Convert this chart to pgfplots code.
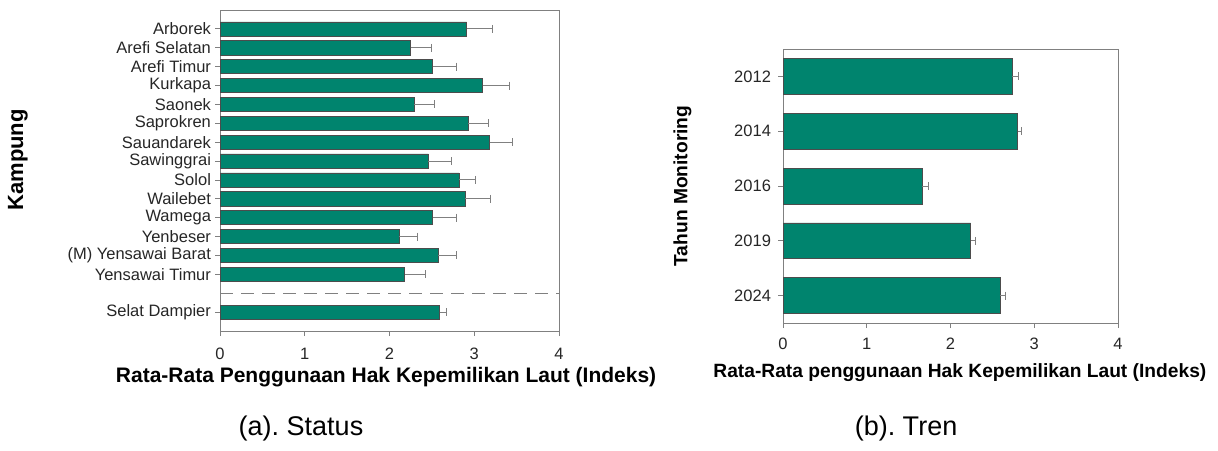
\documentclass[border=0pt]{standalone}
\usepackage{fontspec}
\setmainfont{Liberation Sans}
\usepackage{pgfplots}
\pgfplotsset{compat=1.18}
\definecolor{barteal}{RGB}{0,132,110}
\definecolor{axgray}{RGB}{128,128,128}
\begin{document}
\begin{tikzpicture}
\useasboundingbox (0,0) rectangle (609pt,225pt);
\pgfplotsset{
  myax/.style={
    scale only axis,
    anchor=south west,
    xmin=0, xmax=4,
    xtick={0,1,2,3,4},
    tick pos=left,
    tick align=outside,
    major tick length=2.5pt,
    axis line style={axgray},
    every tick/.style={axgray},
    /pgf/number format/assume math mode=true,
    ticklabel style={font=\fontsize{8.25}{10}\selectfont, text=black!85},
  }
}
% ---------- (a) Status ----------
\begin{axis}[myax,
  at={(110pt,59.5pt)}, width=169.5pt, height=160.5pt,
  ymin=0, ymax=17, y dir=reverse,
  ytick={1,2,3,4,5,6,7,8,9,10,11,12,13,14,16},
  yticklabels={Arborek,Arefi Selatan,Arefi Timur,Kurkapa,Saonek,Saprokren,Sauandarek,Sawinggrai,Solol,Wailebet,Wamega,Yenbeser,(M) Yensawai Barat,Yensawai Timur,Selat Dampier},
  yticklabel style={xshift=1.5pt},
  xticklabel style={yshift=-2.5pt},
  xlabel={\bfseries Rata-Rata Penggunaan Hak Kepemilikan Laut (Indeks)},
  xlabel style={font=\fontsize{10.5}{12}\selectfont, at={(axis description cs:0.49,-0.145)}, anchor=center},
  ylabel={\bfseries Kampung},
  ylabel style={font=\fontsize{11}{13}\selectfont, at={(axis description cs:-0.596,0.533)}, anchor=center, rotate=0},
]
\addplot[xbar, bar width=0.75, fill=barteal, draw=black!70, line width=0.3pt,
  error bars/.cd, x dir=plus, x explicit,
  error bar style={axgray, line width=0.5pt}, error mark options={axgray, rotate=90, mark size=2pt}]
  table[x=v, y=p, x error=e]{
p v e
1 2.91 0.30
2 2.25 0.25
3 2.51 0.28
4 3.10 0.31
5 2.29 0.24
6 2.93 0.24
7 3.18 0.27
8 2.46 0.27
9 2.82 0.19
10 2.89 0.30
11 2.51 0.28
12 2.11 0.22
13 2.57 0.22
14 2.18 0.24
16 2.59 0.08
};
\addplot[axgray, line width=0.6pt, dash pattern=on 6.5pt off 4pt] coordinates {(0,15) (4,15)};
\end{axis}
% ---------- (b) Tren ----------
\begin{axis}[myax,
  at={(391.5pt,63.5pt)}, width=167.5pt, height=137pt,
  ymin=0.5, ymax=5.5, y dir=reverse,
  ytick={1,2,3,4,5},
  yticklabels={2012,2014,2016,2019,2024},
  xticklabel style={yshift=-1.5pt},
  xlabel={\bfseries Rata-Rata penggunaan Hak Kepemilikan Laut (Indeks)},
  xlabel style={font=\fontsize{9.6}{11}\selectfont, at={(axis description cs:0.528,-0.182)}, anchor=center},
  ylabel={\bfseries Tahun Monitoring},
  ylabel style={font=\fontsize{9.6}{11}\selectfont, at={(axis description cs:-0.30,0.5)}, anchor=center, rotate=0},
]
\addplot[xbar, bar width=0.65, fill=barteal, draw=black!70, line width=0.3pt,
  error bars/.cd, x dir=plus, x explicit,
  error bar style={axgray, line width=0.5pt}, error mark options={axgray, rotate=90, mark size=2pt}]
  table[x=v, y=p, x error=e]{
p v e
1 2.74 0.07
2 2.80 0.05
3 1.66 0.07
4 2.24 0.06
5 2.59 0.07
};
\end{axis}
\node[font=\fontsize{13.5}{16}\selectfont] at (150.5pt,10.5pt) {(a).\ Status};
\node[font=\fontsize{13.5}{16}\selectfont] at (453pt,10.5pt) {(b).\ Tren};
\end{tikzpicture}
\end{document}
